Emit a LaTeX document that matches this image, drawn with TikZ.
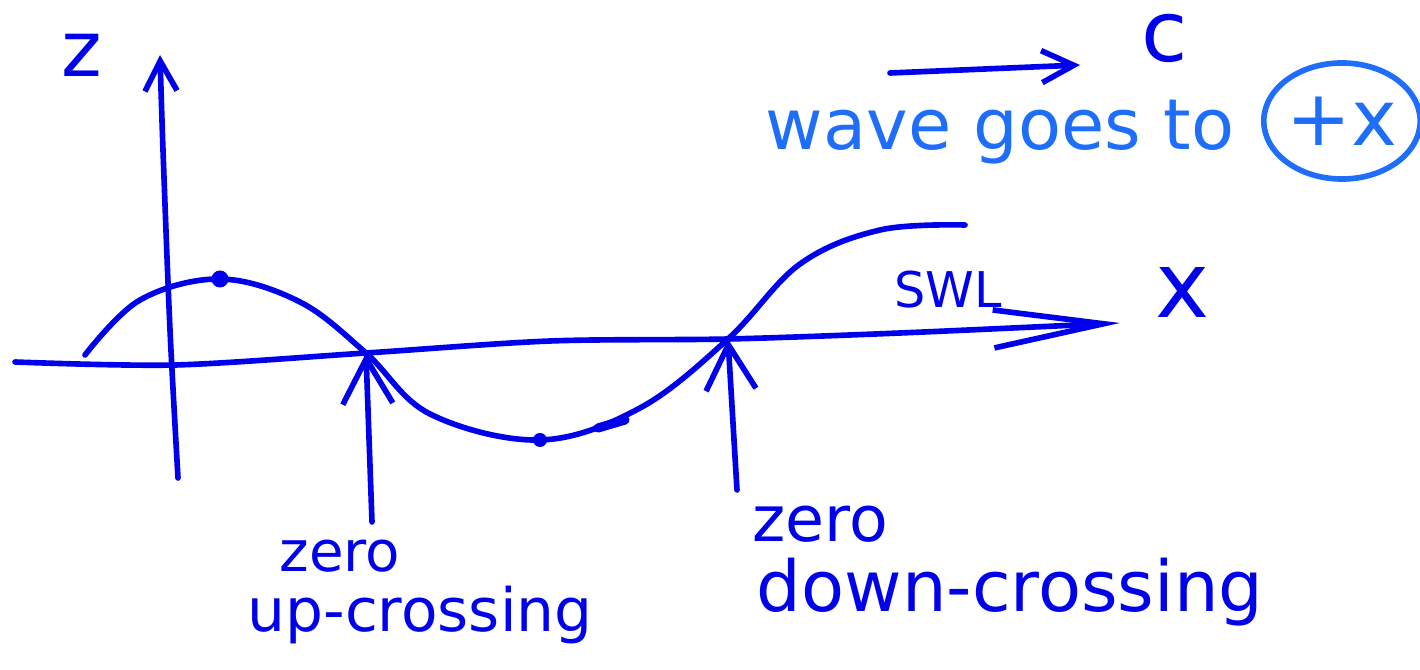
\documentclass[tikz,border=0pt]{standalone}
\usepackage{fontspec}
\setmainfont{DejaVu Sans}
\usepackage{tikz}
\usetikzlibrary{
  shapes.geometric,
  arrows.meta,
  positioning
}
\definecolor{inkblue}{RGB}{0,0,235}
\definecolor{skyink}{RGB}{30,110,250}
\tikzset{
  pen/.style={draw=inkblue,line width=1.6pt,line cap=round,line join=round},
  axisarr/.style={pen,-{Straight Barb[length=3mm,width=3.2mm]}},
  swlarr/.style={pen,-{Straight Barb[length=11mm,width=3.8mm]}},
  crossarr/.style={pen,-{Straight Barb[length=4.5mm,width=5mm]}},
  speedarr/.style={pen,-{Straight Barb[length=3.2mm,width=3.2mm]}},
  inklabel/.style={text=inkblue,inner sep=0pt},
  skylabel/.style={text=skyink,inner sep=0pt},
  crestdot/.style={circle,fill=inkblue,inner sep=0pt,minimum size=0.17cm}
}

\begin{document}
\begin{tikzpicture}[x=0.01cm,y=-0.01cm]
  \useasboundingbox (0,0) rectangle (1420,670);

  %% Key points
  \coordinate (zfoot) at (178,478);
  \coordinate (ztop) at (160,55);
  \coordinate (swlstart) at (15,362);
  \coordinate (swlend) at (1120,323);
  \coordinate (wavestart) at (85,355);
  \coordinate (waveend) at (965,225);
  \coordinate (up) at (366,353);
  \coordinate (down) at (728,339);
  \coordinate (upfoot) at (372,522);
  \coordinate (downfoot) at (737,490);
  \coordinate (cstart) at (890,73);
  \coordinate (cend) at (1080,65);

  %% Crest and trough markers
  \node[crestdot] (crest) at (220,279) {};
  \node[crestdot,minimum size=0.14cm] (trough) at (540,440) {};

  %% Axes
  \draw[axisarr] plot[smooth,tension=0.5] coordinates {(zfoot) (170,330) (163,150) (ztop)};
  \draw[swlarr] plot[smooth,tension=0.5] coordinates {(swlstart) (175,365) (up) (550,341) (down) (900,333) (swlend)};

  %% Wave profile
  \draw[pen] plot[smooth,tension=0.6] coordinates {(wavestart) (140,300) (crest)
    (300,302) (up) (430,414) (trough) (640,408) (down)
    (800,264) (880,230) (waveend)};
  \draw[pen,line width=2.6pt] (598,428) -- (625,420);

  %% Crossing arrows
  \draw[crossarr] (upfoot) -- (up);
  \draw[crossarr] (downfoot) -- (down);

  %% Labels
  \node[inklabel,font=\fontsize{22}{26}\selectfont] (zlab) at (82,55) {z};
  \node[inklabel,font=\fontsize{26}{30}\selectfont] (xlab) at (1183,292) {x};
  \node[inklabel,font=\fontsize{14}{16}\selectfont,anchor=base] (swl) at (948,308) {SWL};
  \node[inklabel,font=\fontsize{16}{20}\selectfont,anchor=base] (zeroup) at (340,572) {zero};
  \node[inklabel,font=\fontsize{17}{20}\selectfont,anchor=base] (upcross) at (420,632) {up-crossing};
  \node[inklabel,font=\fontsize{18}{22}\selectfont,anchor=base] (zerodown) at (820,542) {zero};
  \node[inklabel,font=\fontsize{20}{24}\selectfont,anchor=base] (downcross) at (1010,612) {down-crossing};

  %% Propagation direction
  \draw[speedarr] (cstart) -- (cend);
  \node[inklabel,font=\fontsize{24}{28}\selectfont] (clab) at (1165,38) {c};
  \node[skylabel,font=\fontsize{20}{24}\selectfont,anchor=base] (goes) at (1000,150) {wave goes to};
  \node[skylabel,ellipse,draw=skyink,line width=1.6pt,font=\fontsize{22}{26}\selectfont,
        minimum width=1.45cm,minimum height=1.16cm] (dir) at (1342,121) {+x};
\end{tikzpicture}
\end{document}
